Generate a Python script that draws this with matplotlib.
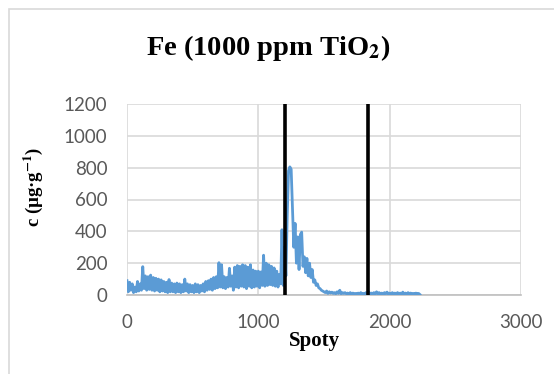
import matplotlib
matplotlib.use("Agg")
import matplotlib.pyplot as plt
from matplotlib.patches import Rectangle

# Spot index (every 10 spots) and Fe concentration
spots = list(range(0, 2240, 10))
fe = [
    90, 20, 80, 30, 70, 15, 50, 20, 85, 25,
    70, 30, 178, 40, 120, 30, 115, 35, 125, 30,
    110, 25, 105, 30, 100, 20, 95, 25, 85, 20,
    80, 15, 97, 20, 75, 20, 70, 15, 75, 20,
    70, 15, 65, 20, 100, 25, 70, 15, 65, 20,
    60, 15, 70, 20, 65, 15, 60, 25, 70, 20,
    85, 30, 90, 35, 100, 30, 110, 40, 115, 45,
    203, 50, 190, 45, 115, 40, 110, 50, 168, 55,
    120, 30, 175, 50, 185, 45, 180, 55, 190, 50,
    185, 40, 175, 55, 190, 45, 157, 50, 150, 55,
    150, 45, 145, 60, 250, 55, 200, 60, 190, 65,
    180, 60, 170, 55, 150, 50, 130, 70, 410, 60,
    300, 120, 500, 780, 805, 790, 550, 300, 450, 200,
    365, 160, 380, 395, 180, 240, 140, 230, 120, 200,
    110, 160, 80, 95, 60, 70, 45, 40, 30, 25,
    20, 15, 25, 10, 20, 12, 18, 10, 15, 8,
    20, 10, 30, 8, 15, 10, 15, 8, 12, 6,
    15, 5, 12, 8, 10, 5, 12, 6, 15, 5,
    10, 5, 15, 6, 20, 5, 12, 8, 15, 6,
    20, 8, 15, 6, 12, 5, 15, 8, 18, 6,
    12, 5, 15, 8, 12, 5, 15, 6, 12, 5,
    18, 6, 12, 5, 15, 8, 12, 5, 10, 5,
    12, 5, 10, 3,
]
# positions of the two vertical markers
markers = [1203, 1838]

xticks = [0, 1000, 2000, 3000]
yticks = [0, 200, 400, 600, 800, 1000, 1200]

W, H = 554, 374
fig = plt.figure(figsize=(W / 100, H / 100), dpi=100)

# outer chart frame (light gray)
fig.patches.append(Rectangle((9 / W, -0.1), 1.2, 1 - 9 / H + 0.1,
                             transform=fig.transFigure, fill=False,
                             edgecolor="#d9d9d9", linewidth=1.2))

ax = fig.add_axes([127 / W, 1 - 295 / H, (521 - 127) / W, (295 - 104) / H])
ax.plot(spots, fe, color="#5b9bd5", linewidth=2.0, zorder=3)
for m in markers:
    ax.axvline(m, color="black", linewidth=2.6, zorder=4)

ax.set_xlim(0, 3000)
ax.set_ylim(0, 1200)
ax.set_xticks(xticks)
ax.set_yticks(yticks)
ax.grid(True, color="#d9d9d9", linewidth=1.2, zorder=0)
ax.set_axisbelow(True)
for s in ["top", "right", "left"]:
    ax.spines[s].set_visible(False)
ax.spines["bottom"].set_color("#bfbfbf")
ax.spines["bottom"].set_linewidth(1.2)
ax.tick_params(length=0, colors="#595959", labelsize=13.5)
ax.tick_params(axis="y", pad=14)
ax.tick_params(axis="x", pad=14)
for lab in ax.get_xticklabels() + ax.get_yticklabels():
    lab.set_fontfamily("Lato")

fig.text(268 / W, 1 - 48 / H, "Fe (1000 ppm TiO$_\\mathbf{2}$)", ha="center", va="center",
         fontsize=20.5, fontweight="bold", family="Liberation Serif",
         math_fontfamily="stix")
fig.text(314 / W, 1 - 341 / H, "Spoty", ha="center", va="center",
         fontsize=15, fontweight="bold", family="Liberation Serif")
fig.text(33 / W, 1 - 187 / H, "c (µg·g$^{\\mathbf{-1}}$)", ha="center", va="center",
         rotation=90, fontsize=13.5, fontweight="bold", family="Liberation Serif",
         math_fontfamily="stix")

fig.savefig("out.png", dpi=100)
